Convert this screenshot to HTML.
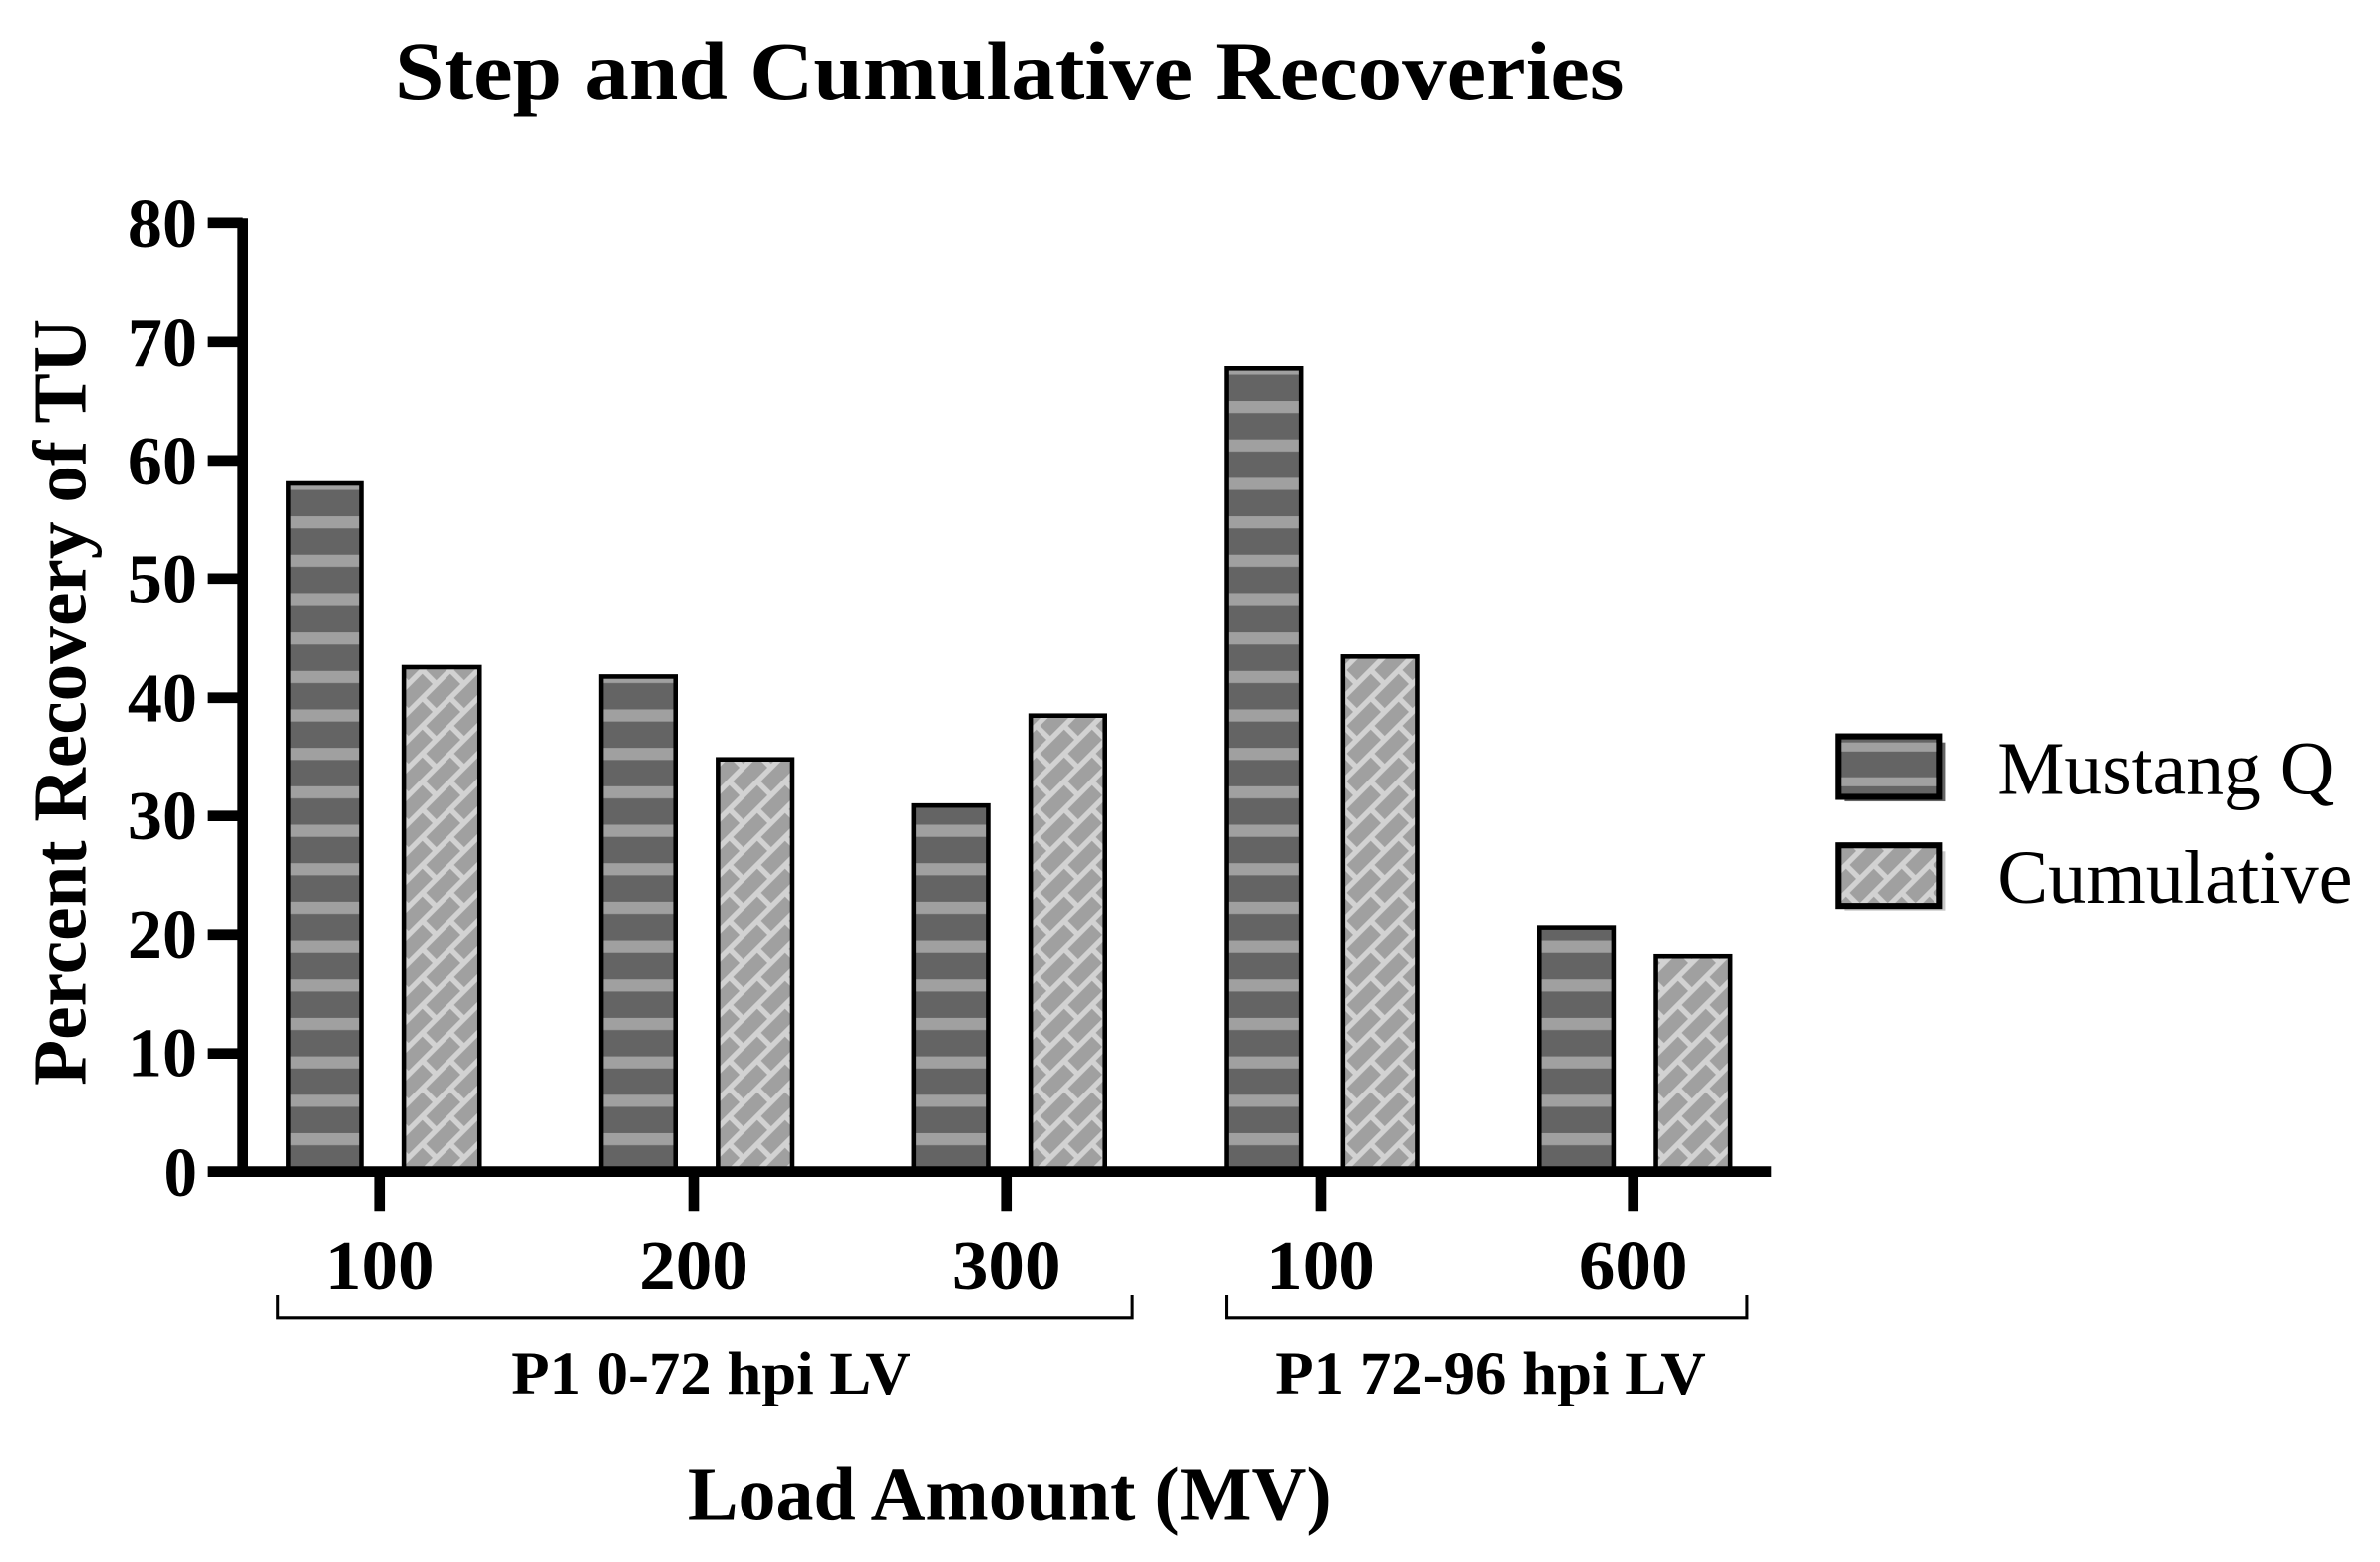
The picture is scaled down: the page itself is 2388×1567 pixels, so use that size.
<!DOCTYPE html>
<html><head><meta charset="utf-8"><style>
html,body{margin:0;padding:0;background:#fff;}
svg{display:block;}
text{font-family:"Liberation Serif",serif;fill:#000;}
.b{font-weight:bold;}
</style></head><body>
<svg width="2388" height="1567" viewBox="0 0 1568 1029" preserveAspectRatio="none" xmlns="http://www.w3.org/2000/svg">
<defs>
<pattern id="st" patternUnits="userSpaceOnUse" width="20" height="25.4" y="772">
<rect width="20" height="25.4" fill="#646464"/>
<rect y="0" width="20" height="8" fill="#a0a0a0"/>
</pattern>
<pattern id="br" patternUnits="userSpaceOnUse" width="26" height="26" patternTransform="rotate(-45)">
<rect width="26" height="26" fill="#a0a0a0"/>
<rect y="0" width="26" height="3.5" fill="#d2d2d2"/>
<rect x="0" y="0" width="3.5" height="13" fill="#d2d2d2"/>
<rect y="13" width="26" height="3.5" fill="#d2d2d2"/>
<rect x="13" y="13" width="3.5" height="13" fill="#d2d2d2"/>
</pattern>
</defs>
<text x="260" y="65" class="b" font-size="54" textLength="810" lengthAdjust="spacingAndGlyphs">Step and Cumulative Recoveries</text>
<g stroke="#000" stroke-width="3">
<rect x="190" y="318.5" width="48" height="453.5" fill="url(#st)"/>
<rect x="266" y="439.3" width="50" height="332.7" fill="url(#br)"/>
<rect x="396" y="445.5" width="49" height="326.5" fill="url(#st)"/>
<rect x="473" y="500.2" width="49" height="271.8" fill="url(#br)"/>
<rect x="602" y="530.7" width="49" height="241.3" fill="url(#st)"/>
<rect x="679" y="471.3" width="49" height="300.7" fill="url(#br)"/>
<rect x="808" y="242.5" width="49" height="529.5" fill="url(#st)"/>
<rect x="885" y="432.3" width="49" height="339.7" fill="url(#br)"/>
<rect x="1014" y="611.1" width="49" height="160.9" fill="url(#st)"/>
<rect x="1091" y="629.9" width="49" height="142.1" fill="url(#br)"/>
</g>
<g stroke="#000" stroke-width="7" fill="none">
<line x1="160" y1="144" x2="160" y2="775"/>
<line x1="137" y1="772" x2="1167" y2="772"/>
<line x1="137" y1="147" x2="160" y2="147"/>
<line x1="137" y1="225.1" x2="160" y2="225.1"/>
<line x1="137" y1="303.3" x2="160" y2="303.3"/>
<line x1="137" y1="381.4" x2="160" y2="381.4"/>
<line x1="137" y1="459.5" x2="160" y2="459.5"/>
<line x1="137" y1="537.6" x2="160" y2="537.6"/>
<line x1="137" y1="615.8" x2="160" y2="615.8"/>
<line x1="137" y1="693.9" x2="160" y2="693.9"/>
<line x1="250" y1="772" x2="250" y2="798"/>
<line x1="457" y1="772" x2="457" y2="798"/>
<line x1="663" y1="772" x2="663" y2="798"/>
<line x1="870" y1="772" x2="870" y2="798"/>
<line x1="1076" y1="772" x2="1076" y2="798"/>
</g>
<g class="b" font-size="46">
<text x="84" y="163" textLength="46" lengthAdjust="spacingAndGlyphs">80</text>
<text x="84" y="241" textLength="46" lengthAdjust="spacingAndGlyphs">70</text>
<text x="84" y="319" textLength="46" lengthAdjust="spacingAndGlyphs">60</text>
<text x="84" y="397" textLength="46" lengthAdjust="spacingAndGlyphs">50</text>
<text x="84" y="475" textLength="46" lengthAdjust="spacingAndGlyphs">40</text>
<text x="84" y="553" textLength="46" lengthAdjust="spacingAndGlyphs">30</text>
<text x="84" y="631" textLength="46" lengthAdjust="spacingAndGlyphs">20</text>
<text x="84" y="709" textLength="46" lengthAdjust="spacingAndGlyphs">10</text>
<text x="108" y="788" textLength="22" lengthAdjust="spacingAndGlyphs">0</text>
</g>
<g class="b" font-size="46">
<text x="214" y="849" textLength="72" lengthAdjust="spacingAndGlyphs">100</text>
<text x="421" y="849" textLength="72" lengthAdjust="spacingAndGlyphs">200</text>
<text x="627" y="849" textLength="72" lengthAdjust="spacingAndGlyphs">300</text>
<text x="834" y="849" textLength="72" lengthAdjust="spacingAndGlyphs">100</text>
<text x="1040" y="849" textLength="72" lengthAdjust="spacingAndGlyphs">600</text>
</g>
<g stroke="#000" stroke-width="2" fill="none">
<polyline points="183,853 183,868 746,868 746,853"/>
<polyline points="808,853 808,868 1151,868 1151,853"/>
</g>
<g class="b" font-size="40">
<text x="337" y="918" textLength="263" lengthAdjust="spacingAndGlyphs">P1 0-72 hpi LV</text>
<text x="840" y="918" textLength="284" lengthAdjust="spacingAndGlyphs">P1 72-96 hpi LV</text>
</g>
<text x="453" y="1001" class="b" font-size="50" textLength="424" lengthAdjust="spacingAndGlyphs">Load Amount (MV)</text>
<text transform="translate(56,715) rotate(-90)" class="b" font-size="50" textLength="505" lengthAdjust="spacingAndGlyphs">Percent Recovery of TU</text>
<rect x="1215" y="489" width="67" height="39" fill="#646464"/>
<rect x="1215" y="561" width="67" height="39" fill="#c8c8c8"/>
<rect x="1211" y="485" width="67" height="40" fill="#646464" stroke="#000" stroke-width="4"/>
<rect x="1213" y="489" width="63" height="6" fill="#a0a0a0"/>
<rect x="1213" y="512" width="63" height="6" fill="#a0a0a0"/>
<rect x="1211" y="557" width="67" height="40" fill="url(#br)" stroke="#000" stroke-width="4"/>
<g font-size="50">
<text x="1316" y="523" textLength="222" lengthAdjust="spacingAndGlyphs">Mustang Q</text>
<text x="1316" y="595" textLength="234" lengthAdjust="spacingAndGlyphs">Cumulative</text>
</g>
</svg>
</body></html>
